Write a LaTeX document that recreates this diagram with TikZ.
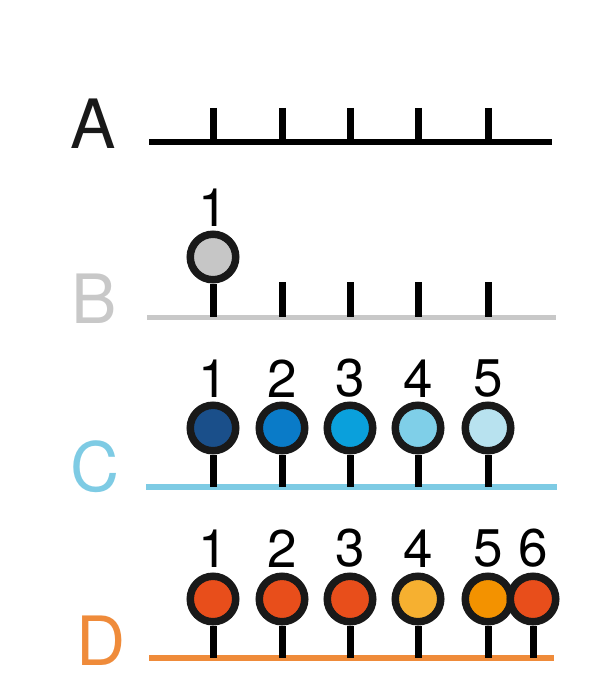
\documentclass[tikz,border=0pt]{standalone}
\usepackage{fontspec}
\setmainfont{TeX Gyre Heros}
\usetikzlibrary{positioning}

\definecolor{rowgray}{HTML}{C8C8C8}
\definecolor{beadgray}{HTML}{C6C6C6}
\definecolor{rowblue}{HTML}{7ECBE4}
\definecolor{roworange}{HTML}{EF8B3A}
\definecolor{blueA}{HTML}{1A4F8A}
\definecolor{blueB}{HTML}{0A7BC8}
\definecolor{blueC}{HTML}{0AA0DC}
\definecolor{blueD}{HTML}{7FCFE8}
\definecolor{blueE}{HTML}{B8E2EF}
\definecolor{redbead}{HTML}{E84E1B}
\definecolor{yellowbead}{HTML}{F6B030}
\definecolor{amberbead}{HTML}{F39200}

\tikzset{
    axis/.style={line width=6pt},
    tickmark/.style={line width=7pt, black},
    bead/.style={circle, draw=black!90, line width=7.5pt, minimum size=45.5pt, inner sep=0pt},
    rowlabel/.style={font=\fontsize{68}{68}\selectfont, anchor=base, inner sep=0pt},
    numlabel/.style={font=\fontsize{53}{53}\selectfont, inner sep=0pt}
}

\begin{document}
\begin{tikzpicture}[x=1pt, y=-1pt]
    \useasboundingbox (0, 0) rectangle (608, 695);

    \node[rowlabel, text=black!90] (A) at (93, 149) {A};
    \coordinate (A0) at (149, 142);
    \coordinate (A1) at (552, 142);
    \draw[axis] (A0) -- (A1);
    \foreach \x [count=\i] in {213, 282, 350, 418, 488} {
        \coordinate (at\i) at (\x, 108);
        \draw[tickmark] (at\i) -- (at\i |- A0);
    }

    \node[rowlabel, text=rowgray] (B) at (94, 323) {B};
    \coordinate (B0) at (147, 317);
    \coordinate (B1) at (556, 317);
    \draw[axis, rowgray, line width=5pt] (B0) -- (B1);
    \foreach \x [count=\i] in {282, 350, 418, 488} {
        \coordinate (bt\i) at (\x, 282);
        \draw[tickmark] (bt\i) -- (bt\i |- B0);
    }
    \node[bead, fill=beadgray] (b1) at (213, 257) {};
    \draw[tickmark] (b1) -- (b1 |- B0);
    \node[numlabel, above=4pt of b1] (nb1) {1};

    \node[rowlabel, text=rowblue] (C) at (95, 491) {C};
    \coordinate (C0) at (146, 487);
    \coordinate (C1) at (557, 487);
    \draw[axis, rowblue] (C0) -- (C1);
    \foreach \x/\c [count=\i] in {213/blueA, 282/blueB, 350/blueC, 418/blueD, 488/blueE} {
        \node[bead, fill=\c] (c\i) at (\x, 428) {};
        \draw[tickmark] (c\i) -- (c\i |- C0);
        \node[numlabel, above=4pt of c\i] (nc\i) {\i};
    }

    \node[rowlabel, text=roworange] (D) at (101, 665) {D};
    \coordinate (D0) at (149, 658);
    \coordinate (D1) at (554, 658);
    \draw[axis, roworange] (D0) -- (D1);
    \foreach \x/\c [count=\i] in {213/redbead, 282/redbead, 350/redbead, 418/yellowbead, 488/amberbead, 533/redbead} {
        \node[bead, fill=\c] (d\i) at (\x, 599) {};
        \draw[tickmark] (d\i) -- (d\i |- D0);
        \node[numlabel, above=5pt of d\i] (nd\i) {\i};
    }
\end{tikzpicture}
\end{document}
